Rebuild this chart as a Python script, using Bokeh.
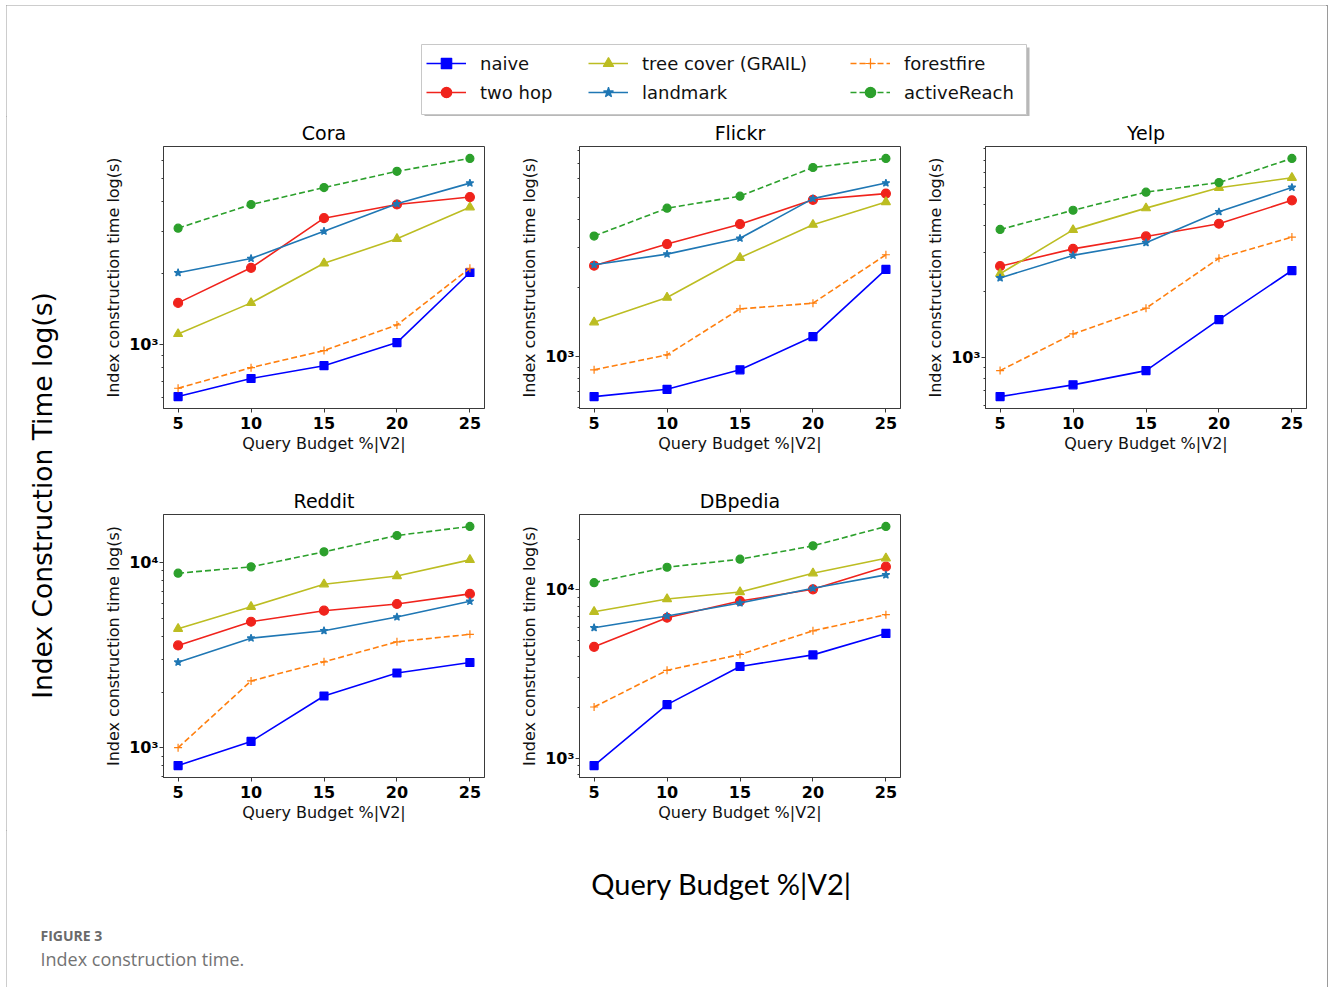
import math
from bokeh.plotting import figure
from bokeh.layouts import row, column
from bokeh.models import Range1d, FixedTicker, Legend, LegendItem, Spacer
from bokeh.core.properties import value
from bokeh.embed import file_html
from bokeh.resources import INLINE

# ---------------- data ----------------
budget = [5, 10, 15, 20, 25]
datasets = ["Cora", "Flickr", "Yelp", "Reddit", "DBpedia"]
methods = ["naive", "two hop", "tree cover (GRAIL)", "landmark", "forestfire", "activeReach"]

naive = {
    "Cora": [604, 720, 815, 1020, 2014],
    "Flickr": [668, 719, 875, 1224, 2408],
    "Yelp": [659, 746, 867, 1486, 2493],
    "Reddit": [804, 1084, 1905, 2535, 2887],
    "DBpedia": [902, 2078, 3504, 4109, 5514],
}
two_hop = {
    "Cora": [1500, 2108, 3413, 3898, 4189],
    "Flickr": [2500, 3111, 3802, 4862, 5175],
    "Yelp": [2609, 3133, 3573, 4085, 5229],
    "Reddit": [3567, 4787, 5490, 5966, 6762],
    "DBpedia": [4587, 6833, 8590, 10089, 13765],
}
tree_cover = {
    "Cora": [1110, 1500, 2203, 2793, 3795],
    "Flickr": [1414, 1814, 2710, 3783, 4752],
    "Yelp": [2409, 3829, 4817, 5973, 6637],
    "Reddit": [4385, 5767, 7622, 8451, 10316],
    "DBpedia": [7413, 8830, 9727, 12581, 15453],
}
landmark = {
    "Cora": [2010, 2307, 3006, 3926, 4797],
    "Flickr": [2523, 2811, 3296, 4918, 5754],
    "Yelp": [2306, 2925, 3344, 4633, 5992],
    "Reddit": [2898, 3906, 4279, 5075, 6166],
    "DBpedia": [5958, 6998, 8365, 10230, 12292],
}
forestfire = {
    "Cora": [655, 800, 944, 1211, 2099],
    "Flickr": [875, 1017, 1618, 1713, 2793],
    "Yelp": [867, 1277, 1675, 2838, 3548],
    "Reddit": [1003, 2296, 2911, 3733, 4095],
    "DBpedia": [2012, 3327, 4130, 5716, 7124],
}
active_reach = {
    "Cora": [3097, 3898, 4592, 5380, 6097],
    "Flickr": [3373, 4466, 5044, 6731, 7379],
    "Yelp": [3846, 4710, 5703, 6311, 8141],
    "Reddit": [8742, 9456, 11398, 13959, 15613],
    "DBpedia": [11058, 13656, 15240, 18309, 23877],
}
series_values = [naive, two_hop, tree_cover, landmark, forestfire, active_reach]

# ---------------- styles ----------------
STYLES = [
    dict(color="#0000ff", marker="square", size=8, dash="solid"),
    dict(color="#f0231c", marker="circle", size=9, dash="solid"),
    dict(color="#bcbd22", marker="triangle", size=9, dash="solid"),
    dict(color="#1f77b4", marker="star", size=8, dash="solid"),
    dict(color="#ff7f0e", marker="cross", size=8, dash="6 3"),
    dict(color="#2ca02c", marker="circle", size=8, dash="6 3"),
]
FONT = value("DejaVu Sans")
AX = "#3a3a3a"


def make_panel(name, width, bl, br, height, bt, bb):
    vals = [v for s in series_values for v in s[name]]
    l0, l1 = math.log10(min(vals)), math.log10(max(vals))
    pad = 0.05 * (l1 - l0)
    xpad = 0.05 * (max(budget) - min(budget))
    p = figure(width=width, height=height, y_axis_type="log",
               x_range=Range1d(min(budget) - xpad, max(budget) + xpad),
               y_range=Range1d(10 ** (l0 - pad), 10 ** (l1 + pad)),
               min_border_left=bl, min_border_right=br,
               min_border_top=bt, min_border_bottom=bb,
               toolbar_location=None, output_backend="svg", title=name)
    p.title.align = "center"
    p.title.text_font = "DejaVu Sans"
    p.title.text_font_size = "19px"
    p.title.text_font_style = "normal"
    p.title.text_color = "black"
    p.title.standoff = 6
    p.grid.visible = False
    p.outline_line_color = AX
    p.outline_line_width = 1
    for s, st in zip(series_values, STYLES):
        p.line(budget, s[name], line_color=st["color"], line_width=1.6, line_dash=st["dash"])
        p.scatter(budget, s[name], marker=st["marker"], size=st["size"],
                  fill_color=st["color"], line_color=st["color"], line_width=1.2)
    xa = p.xaxis[0]
    xa.ticker = FixedTicker(ticks=budget)
    xa.axis_label = "Query Budget %|V2|"
    xa.axis_label_text_font = "DejaVu Sans"
    xa.axis_label_text_font_size = "16px"
    xa.axis_label_text_font_style = "normal"
    xa.axis_label_text_color = "#111"
    xa.axis_label_standoff = 2
    xa.major_label_text_font = "DejaVu Sans"
    xa.major_label_text_font_size = "16px"
    xa.major_label_text_font_style = "bold"
    xa.major_label_text_color = "black"
    xa.major_label_standoff = 4
    xa.major_tick_out = 4
    xa.major_tick_in = 0
    xa.minor_tick_line_color = None
    xa.axis_line_color = AX
    xa.major_tick_line_color = AX
    ya = p.yaxis[0]
    minors = [m * 10 ** e for e in (2, 3, 4) for m in range(2, 10)]
    ya.ticker = FixedTicker(ticks=[1000, 10000], minor_ticks=minors)
    ya.major_label_overrides = {1000: "10³", 10000: "10⁴"}
    ya.axis_label = "Index construction time log(s)"
    ya.axis_label_text_font = "DejaVu Sans"
    ya.axis_label_text_font_size = "16px"
    ya.axis_label_text_font_style = "normal"
    ya.axis_label_text_color = "#111"
    ya.axis_label_standoff = 3
    ya.major_label_text_font = "DejaVu Sans"
    ya.major_label_text_font_size = "16px"
    ya.major_label_text_font_style = "bold"
    ya.major_label_text_color = "black"
    ya.major_label_standoff = 1
    ya.major_tick_out = 4
    ya.major_tick_in = 0
    ya.minor_tick_out = 2
    ya.minor_tick_in = 0
    ya.axis_line_color = AX
    ya.major_tick_line_color = AX
    ya.minor_tick_line_color = AX
    return p


def blank(width, height, x0, x1, y0, y1):
    p = figure(width=width, height=height, x_range=Range1d(x0, x1), y_range=Range1d(y1, y0),
               x_axis_location=None, y_axis_location=None, min_border=0,
               toolbar_location=None, output_backend="svg")
    p.grid.visible = False
    p.outline_line_color = None
    return p


# ---------------- header with legend (page-pixel coordinates) ----------------
hdr = blank(1320, 111, 6, 1326, 5, 116)
hdr.quad(left=[424], right=[1029], top=[47], bottom=[117], fill_color="#9a9a9a",
         fill_alpha=0.7, line_color=None)
hdr.quad(left=[421], right=[1026], top=[44], bottom=[114], fill_color="white",
         line_color="#c8c8c8", line_width=1)
nan = float("nan")
items = []
for m, st in zip(methods, STYLES):
    rl = hdr.line([nan], [nan], line_color=st["color"], line_width=1.6, line_dash=st["dash"])
    rs = hdr.scatter([nan], [nan], marker=st["marker"], size=st["size"], fill_color=st["color"],
                     line_color=st["color"], line_width=1.2)
    items.append(LegendItem(label=m, renderers=[rl, rs]))
for k, xloc in enumerate([420, 582, 844]):
    leg = Legend(items=items[2 * k:2 * k + 2], location=(xloc, 11), orientation="vertical",
                 glyph_width=40, glyph_height=26, label_standoff=14, spacing=3,
                 padding=0, margin=0, border_line_color=None, background_fill_alpha=0,
                 label_text_font="DejaVu Sans", label_text_font_size="18px",
                 label_text_color="#111", label_height=26)
    hdr.add_layout(leg, "center")

# ---------------- left big label ----------------
leftfig = blank(87, 714, 6, 93, 116, 830)
leftfig.text(x=[42], y=[495], text=["Index Construction Time log(s)"], angle=math.pi / 2,
             text_align="center", text_baseline="middle", text_font=FONT,
             text_font_size="26.5px", text_color="black")

# ---------------- panels ----------------
cora = make_panel("Cora", 416, 70, 25, 354, 30, 62)
flickr = make_panel("Flickr", 406, 70, 15, 354, 30, 62)
yelp = make_panel("Yelp", 411, 70, 20, 354, 30, 62)
reddit = make_panel("Reddit", 416, 70, 25, 360, 44, 53)
dbpedia = make_panel("DBpedia", 406, 70, 15, 360, 44, 53)

# ---------------- bottom ----------------
bot = blank(1320, 157, 6, 1326, 830, 987)
bot.text(x=[721], y=[883], text=["Query Budget %|V2|"], text_align="center",
         text_baseline="middle", text_font=value("Lato"),
         text_font_size="29px", text_color="black")
bot.text(x=[40], y=[935], text=["FIGURE 3"], text_align="left", text_baseline="middle",
         text_font=value("Open Sans"), text_font_size="14px", text_font_style="bold",
         text_color="#6a6a6a")
bot.text(x=[40], y=[958], text=["Index construction time."], text_align="left",
         text_baseline="middle", text_font=value("Open Sans"), text_font_size="18px",
         text_color="#737373")

grid = column(row(cora, flickr, yelp), row(reddit, dbpedia, Spacer(width=411, height=360)))
main = column(hdr, row(leftfig, grid), bot)
content = row(main, Spacer(width=2, height=982),
              styles={"box-shadow": "inset 1px 1px 0 0 #9a9a9a, inset -1px 0 0 0 #9a9a9a"})
layout = row(Spacer(width=6, height=987), column(Spacer(width=1322, height=5), content))

open("out.html", "w").write(file_html(layout, INLINE))
